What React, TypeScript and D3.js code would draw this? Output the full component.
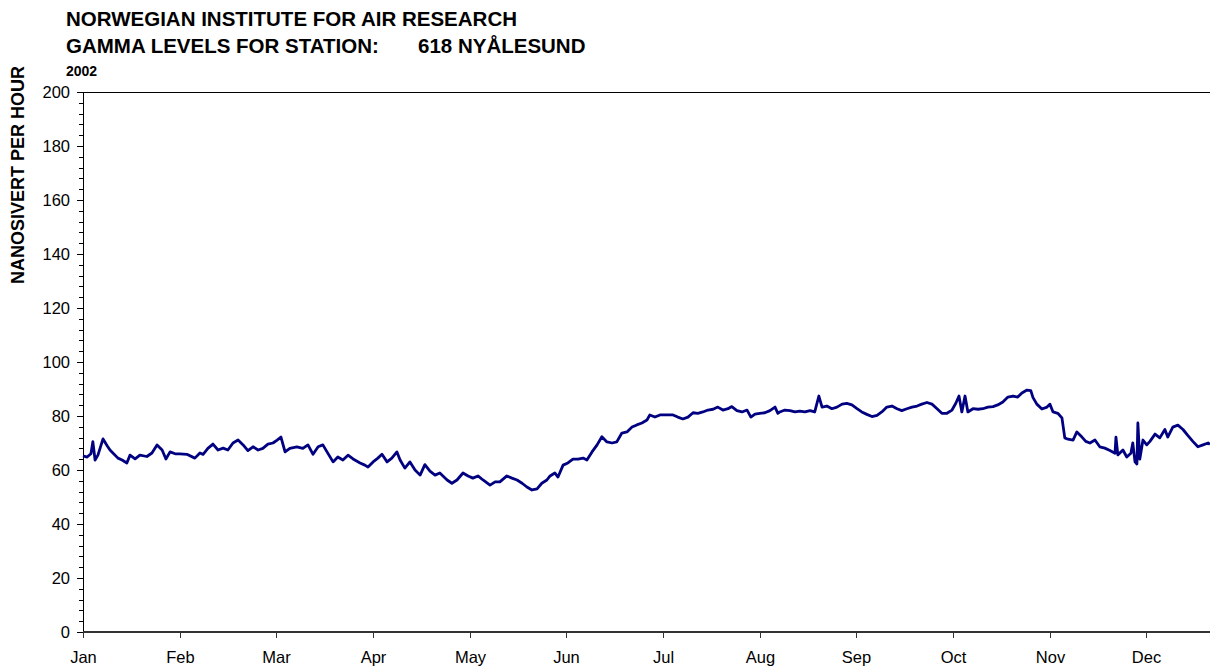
import React from "react";
import * as d3 from "d3";

// Month tick labels (equally spaced ticks, one per ~30.42 days)
const monthLabels = ["Jan", "Feb", "Mar", "Apr", "May", "Jun", "Jul", "Aug", "Sep", "Oct", "Nov", "Dec"];
const daysPerTick = 30.42;
const axisEndDay = 354.7;

const yTicks = [0, 20, 40, 60, 80, 100, 120, 140, 160, 180, 200];

// Day offset from 1 Jan 2002
const dayOfYear = [
  0, 1.3, 2.5, 3.1, 3.8, 4.7, 6.3, 7.6, 8.5, 9.1, 11.0, 12.3, 13.8, 14.8, 16.4, 17.9, 20.1, 21.7, 23.3, 24.9,
  26.1, 27.4, 29.0, 30.5, 32.7, 35.2, 36.8, 37.8, 39.3, 40.9, 42.5, 44.1, 45.6, 47.2, 48.8, 50.4, 51.9, 53.5, 55.1, 56.6,
  58.2, 59.8, 61.1, 62.3, 63.6, 65.1, 67.3, 69.2, 70.8, 72.4, 74.0,
  75.5, 76.8, 78.7, 80.2, 81.8, 83.4, 85.0, 87.2, 88.7, 89.7, 91.3, 92.8, 94.1, 95.7, 97.2, 98.8, 99.8, 101.3, 102.9, 104.5,
  106.1, 107.6, 109.2, 110.8, 112.3, 114.6, 116.1, 117.7, 119.6, 121.2, 122.7, 124.3, 125.9, 128.1, 129.7, 131.2, 133.4, 135.0, 136.6, 138.2,
  139.7, 141.3, 142.9, 144.4, 146.0,
  147.0, 148.5, 149.5, 151.1, 152.6, 154.2, 155.8, 157.4, 158.6, 160.2, 161.8, 163.3, 164.9, 166.5, 168.0, 169.6, 171.2, 172.8, 174.3, 175.9,
  177.5, 178.4, 180.0, 181.6, 183.8, 185.7, 187.2, 188.8, 190.4, 192.0, 193.5, 195.1, 196.7, 198.3, 199.8, 201.4, 203.0, 204.2, 205.8, 207.4,
  209.0, 210.2, 211.5, 213.0, 214.6, 216.2, 217.8, 218.7,
  219.3, 220.9, 222.5, 224.1, 225.6, 227.2, 228.8, 230.3, 231.6, 232.6, 234.1, 235.7, 237.3, 238.9, 240.4, 242.0, 243.6, 245.1, 246.7, 248.3,
  249.9, 251.4, 253.0, 254.6, 256.2, 257.7, 259.3, 260.9, 262.5, 264.0, 265.6, 267.2, 268.8, 270.3, 271.9, 273.5, 274.7, 275.7, 276.6, 277.6,
  278.5, 280.1, 281.7, 283.2, 284.8, 286.4, 287.9,
  289.5, 291.1, 292.7, 294.2, 295.5, 297.1, 298.3, 299.0, 300.2, 301.8, 303.4, 304.3, 305.3, 306.8, 308.1, 309.0, 310.0, 311.6, 312.8, 314.4,
  315.6, 316.9, 318.5, 320.0, 321.6, 323.2, 324.8, 325.1, 325.7, 327.3, 328.5, 329.8, 330.4, 331.1, 331.7, 332.0, 332.6, 333.6, 334.8, 335.8,
  337.4, 338.9, 340.5, 341.4, 343.0, 344.6, 346.2, 347.7, 349.3, 350.9, 352.5, 354.1, 354.7,
];

// Gamma dose rate, nSv/h
const gammaNsvH = [
  65.2, 64.8, 66.0, 70.5, 63.7, 65.5, 71.5, 69.0, 67.4, 66.7, 64.4, 63.7, 62.6, 65.5, 64.1, 65.5, 65.0, 66.3, 69.3, 67.4,
  64.1, 66.7, 66.0, 66.0, 65.8, 64.4, 66.3, 65.8, 68.0, 69.6, 67.4, 68.1, 67.4, 70.0, 71.1, 69.3, 67.2, 68.6, 67.4, 68.0,
  69.6, 70.0, 71.1, 72.2, 66.7, 68.0, 68.6, 68.0, 69.3, 65.8, 68.6,
  69.3, 66.7, 63.0, 64.8, 63.7, 65.5, 64.1, 62.6, 61.8, 61.1, 63.0, 64.4, 65.8, 63.0, 64.4, 66.7, 63.7, 60.7, 63.0, 60.0,
  58.1, 62.0, 59.6, 58.1, 58.9, 56.3, 55.1, 56.3, 58.9, 57.8, 57.0, 57.8, 56.3, 54.4, 55.6, 55.6, 57.8, 57.0, 56.3, 55.1,
  53.7, 52.6, 53.0, 55.1, 56.3,
  57.8, 58.9, 57.4, 61.8, 62.6, 64.0, 64.0, 64.4, 63.7, 66.7, 69.3, 72.3, 70.4, 70.0, 70.4, 73.7, 74.1, 75.9, 76.7, 77.4,
  78.5, 80.4, 79.6, 80.4, 80.4, 80.4, 79.6, 78.9, 79.6, 81.2, 81.0, 81.5, 82.2, 82.5, 83.3, 82.2, 82.7, 83.5, 82.0, 81.5,
  82.2, 79.6, 80.7, 81.0, 81.2, 82.0, 83.3, 81.0,
  81.5, 82.2, 82.0, 81.5, 81.8, 81.5, 82.0, 81.5, 87.4, 83.3, 83.7, 82.7, 83.3, 84.4, 84.7, 84.1, 82.7, 81.5, 80.6, 79.8,
  80.2, 81.5, 83.3, 83.7, 82.7, 82.0, 82.7, 83.3, 83.7, 84.4, 85.0, 84.4, 82.7, 81.0, 81.0, 82.2, 84.7, 87.4, 81.5, 87.4,
  81.5, 82.7, 82.5, 82.7, 83.3, 83.5, 84.1,
  85.2, 87.0, 87.4, 87.0, 88.5, 89.6, 89.4, 86.8, 84.4, 82.6, 83.3, 84.4, 81.5, 81.0, 79.3, 71.9, 71.4, 71.1, 74.1, 72.2,
  70.6, 70.0, 71.1, 68.6, 68.1, 67.2, 66.2, 72.2, 65.6, 67.4, 64.8, 66.2, 70.0, 63.0, 62.2, 77.4, 64.0, 71.1, 69.3, 70.6,
  73.3, 71.9, 75.0, 72.2, 75.9, 76.6, 75.0, 72.8, 70.6, 68.6, 69.3, 70.0, 69.5,
];

const W = 1210;
const H = 668;
const plotLeft = 83;
const plotRight = 1210;
const plotTop = 92;
const plotBottom = 632;

const FONT = "Arial, 'Liberation Sans', sans-serif";

export default function App() {
  const x = d3.scaleLinear().domain([0, axisEndDay]).range([plotLeft, plotRight]);
  const y = d3.scaleLinear().domain([0, 200]).range([plotBottom, plotTop]);

  const points: [number, number][] = dayOfYear.map((d, i) => [d, gammaNsvH[i]]);
  const line = d3
    .line<[number, number]>()
    .x((d) => x(d[0]))
    .y((d) => y(d[1]))
    .curve(d3.curveLinear);

  const minorTicks = d3.range(0, 201, 4).filter((v) => v % 20 !== 0);

  return (
    <svg
      width={W}
      height={H}
      style={{ position: "absolute", left: 0, top: 0, background: "#fff" }}
      fontFamily={FONT}
    >
      {/* Titles */}
      <text x={66} y={26} fontSize={20.5} fontWeight="bold" fill="#000">
        NORWEGIAN INSTITUTE FOR AIR RESEARCH
      </text>
      <text x={66} y={53} fontSize={20.5} fontWeight="bold" fill="#000">
        GAMMA LEVELS FOR STATION:
      </text>
      <text x={418} y={53} fontSize={20.5} fontWeight="bold" fill="#000">
        618 NYÅLESUND
      </text>
      <text x={66} y={76} fontSize={14} fontWeight="bold" fill="#000">
        2002
      </text>

      {/* Y axis label */}
      <text
        transform={`translate(24,175) rotate(-90)`}
        textAnchor="middle"
        fontSize={18}
        fontWeight="bold"
        fill="#000"
      >
        NANOSIVERT PER HOUR
      </text>

      {/* Top border */}
      <line x1={plotLeft} x2={plotRight} y1={plotTop + 0.5} y2={plotTop + 0.5} stroke="#000" strokeWidth={1} />

      {/* Y axis */}
      <line x1={plotLeft + 0.5} x2={plotLeft + 0.5} y1={plotTop} y2={plotBottom} stroke="#000" strokeWidth={1} />
      {minorTicks.map((v) => (
        <line
          key={"m" + v}
          x1={plotLeft - 4}
          x2={plotLeft}
          y1={Math.round(y(v)) + 0.5}
          y2={Math.round(y(v)) + 0.5}
          stroke="#000"
          strokeWidth={1}
        />
      ))}
      {yTicks.map((v) => (
        <g key={"y" + v}>
          <line
            x1={plotLeft - 6}
            x2={plotLeft}
            y1={Math.round(y(v)) + 0.5}
            y2={Math.round(y(v)) + 0.5}
            stroke="#000"
            strokeWidth={1}
          />
          <text x={70} y={y(v)} dy="0.35em" textAnchor="end" fontSize={16.5} fill="#000">
            {v}
          </text>
        </g>
      ))}

      {/* X axis */}
      <line x1={plotLeft} x2={plotRight} y1={plotBottom} y2={plotBottom} stroke="#333" strokeWidth={2} />
      {monthLabels.map((m, i) => {
        const px = Math.round(x(i * daysPerTick)) + 0.5;
        return (
          <g key={m}>
            <line x1={px} x2={px} y1={plotBottom} y2={plotBottom + 6} stroke="#333" strokeWidth={1} />
            <text x={px} y={663} textAnchor="middle" fontSize={16.5} fill="#000">
              {m}
            </text>
          </g>
        );
      })}

      {/* Data line */}
      <path d={line(points) || ""} fill="none" stroke="#000080" strokeWidth={2.8} strokeLinejoin="round" />
    </svg>
  );
}
